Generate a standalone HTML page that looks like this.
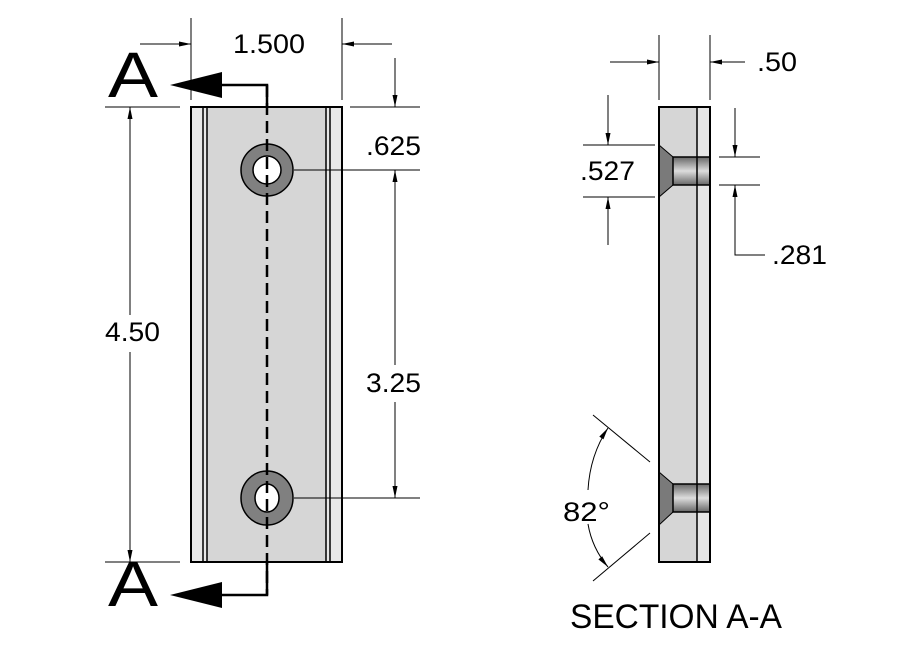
<!DOCTYPE html>
<html><head><style>body{margin:0;background:#fff}svg{display:block}text{font-family:"Liberation Sans",sans-serif;fill:#000}</style></head><body>
<svg width="910" height="656" viewBox="0 0 910 656" xmlns="http://www.w3.org/2000/svg">
<defs>
<marker id="ar" markerWidth="12" markerHeight="8" refX="12" refY="4" orient="auto" markerUnits="userSpaceOnUse"><path d="M0,1.5 L12,4 L0,6.5Z" fill="#000"/></marker>
<linearGradient id="cyl" x1="0" y1="0" x2="0" y2="1"><stop offset="0" stop-color="#666"/><stop offset="0.5" stop-color="#ddd"/><stop offset="1" stop-color="#666"/></linearGradient>
</defs>
<rect x="191" y="107" width="151" height="455" fill="#e8e8e8" stroke="#000" stroke-width="2"/>
<rect x="207" y="107" width="119" height="455" fill="#d6d6d6"/>
<g stroke="#000" stroke-width="1.5"><line x1="203" y1="107" x2="203" y2="562"/><line x1="207" y1="107" x2="207" y2="562"/><line x1="326" y1="107" x2="326" y2="562"/><line x1="330" y1="107" x2="330" y2="562"/></g>
<rect x="191" y="107" width="151" height="455" fill="none" stroke="#000" stroke-width="2"/>
<g stroke="#000" stroke-width="1.5">
<circle cx="267" cy="170" r="26" fill="#808080"/><circle cx="267" cy="170" r="14" fill="#fff"/>
<ellipse cx="267" cy="498" rx="26" ry="27" fill="#808080"/><ellipse cx="267" cy="498" rx="12" ry="14" fill="#fff"/>
</g>
<line x1="267" y1="85" x2="267" y2="595" stroke="#000" stroke-width="2.5" stroke-dasharray="12,6"/>
<polyline points="267,107 267,85 222,85" fill="none" stroke="#000" stroke-width="2.5"/>
<polygon points="170,85 222,72 222,98" fill="#000"/>
<polyline points="267,562 267,595 222,595" fill="none" stroke="#000" stroke-width="2.5"/>
<polygon points="170,595 222,582 222,608" fill="#000"/>
<text x="108" y="97" font-size="64" textLength="50" lengthAdjust="spacingAndGlyphs">A</text>
<text x="108" y="606" font-size="64" textLength="50" lengthAdjust="spacingAndGlyphs">A</text>
<g stroke="#000" stroke-width="1" fill="none">
<line x1="191" y1="18" x2="191" y2="100"/><line x1="342" y1="18" x2="342" y2="100"/>
<line x1="140" y1="44" x2="191" y2="44" marker-end="url(#ar)"/><line x1="392" y1="44" x2="342" y2="44" marker-end="url(#ar)"/>
<line x1="105" y1="107" x2="180" y2="107"/><line x1="105" y1="562" x2="180" y2="562"/>
<line x1="130" y1="315" x2="130" y2="107" marker-end="url(#ar)"/><line x1="130" y1="352" x2="130" y2="562" marker-end="url(#ar)"/>
<line x1="350" y1="107" x2="420" y2="107"/><line x1="294" y1="170" x2="420" y2="170"/><line x1="294" y1="498" x2="420" y2="498"/>
<line x1="395" y1="58" x2="395" y2="107" marker-end="url(#ar)"/>
<line x1="395" y1="365" x2="395" y2="170" marker-end="url(#ar)"/><line x1="395" y1="402" x2="395" y2="498" marker-end="url(#ar)"/>
</g>
<g font-size="27">
<text x="233" y="53" textLength="72" lengthAdjust="spacingAndGlyphs">1.500</text>
<text x="105" y="341" textLength="55" lengthAdjust="spacingAndGlyphs">4.50</text>
<text x="366" y="155" textLength="55" lengthAdjust="spacingAndGlyphs">.625</text>
<text x="366" y="392" textLength="55" lengthAdjust="spacingAndGlyphs">3.25</text>
<text x="757" y="71" textLength="40" lengthAdjust="spacingAndGlyphs">.50</text>
<text x="580" y="180" textLength="55" lengthAdjust="spacingAndGlyphs">.527</text>
<text x="772" y="264" textLength="55" lengthAdjust="spacingAndGlyphs">.281</text>
<text x="563" y="521" textLength="47" lengthAdjust="spacingAndGlyphs">82°</text>
</g>
<rect x="659" y="107" width="51" height="455" fill="#d6d6d6"/>
<rect x="697" y="107" width="13" height="455" fill="#e6e6e6"/>
<polygon points="659,145 673,157 673,185 659,197" fill="#7a7a7a" stroke="#000" stroke-width="1"/>
<rect x="673" y="157" width="37" height="28" fill="url(#cyl)" stroke="#000" stroke-width="1.5"/>
<polygon points="659,472 673,484 673,512 659,525" fill="#7a7a7a" stroke="#000" stroke-width="1"/>
<rect x="673" y="484" width="37" height="28" fill="url(#cyl)" stroke="#000" stroke-width="1.5"/>
<line x1="697" y1="107" x2="697" y2="562" stroke="#000" stroke-width="1.5"/>
<rect x="659" y="107" width="51" height="455" fill="none" stroke="#000" stroke-width="2"/>
<g stroke="#000" stroke-width="1" fill="none">
<line x1="659" y1="35" x2="659" y2="100"/><line x1="710" y1="35" x2="710" y2="100"/>
<line x1="610" y1="62" x2="659" y2="62" marker-end="url(#ar)"/><line x1="745" y1="62" x2="710" y2="62" marker-end="url(#ar)"/>
<line x1="583" y1="145" x2="655" y2="145"/><line x1="583" y1="197" x2="655" y2="197"/>
<line x1="608" y1="95" x2="608" y2="145" marker-end="url(#ar)"/><line x1="608" y1="245" x2="608" y2="197" marker-end="url(#ar)"/>
<line x1="719" y1="157" x2="760" y2="157"/><line x1="719" y1="185" x2="760" y2="185"/>
<line x1="735" y1="108" x2="735" y2="157" marker-end="url(#ar)"/>
<polyline points="765,255 735,255 735,185" marker-end="url(#ar)"/>
<line x1="650" y1="462" x2="593" y2="415"/><line x1="650" y1="533" x2="593" y2="581"/>
<path d="M588,490 Q590,455 608,428" marker-end="url(#ar)"/>
<path d="M588,524 Q592,548 608,567" marker-end="url(#ar)"/>
</g>
<text x="570" y="628" font-size="34" textLength="212" lengthAdjust="spacingAndGlyphs">SECTION A-A</text>
</svg>
</body></html>
